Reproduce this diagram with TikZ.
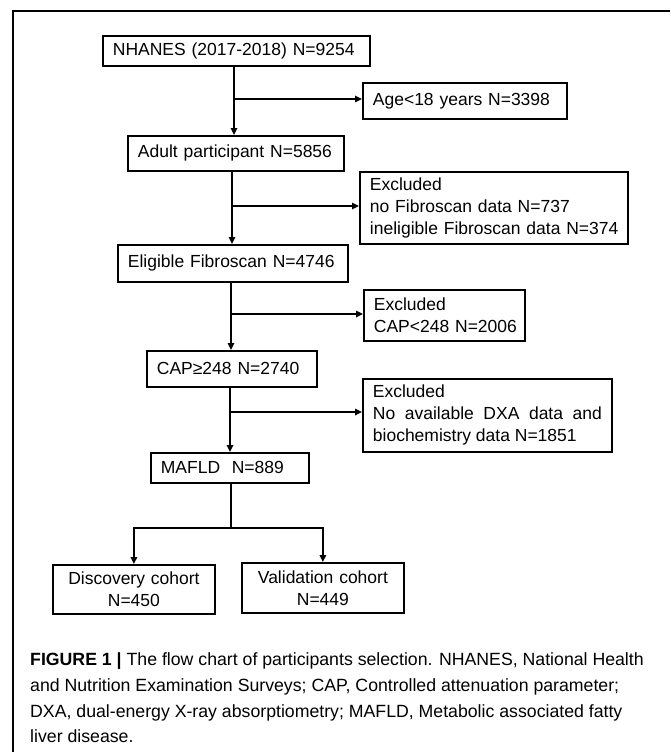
\documentclass[tikz,border=0pt]{standalone}
\usepackage{fontspec}
\setmainfont{Liberation Sans}
\usetikzlibrary{arrows.meta}
\begin{document}
\begin{tikzpicture}[x=1pt,y=-1pt,
  box/.style={draw, line width=1.8pt, inner xsep=10pt, inner ysep=0pt, anchor=north west,
    font=\fontsize{17.5}{22}\selectfont},
  lbox/.style={box, align=left},
  cbox/.style={box, align=center},
  arr/.style={line width=1.6pt, -{Triangle[length=7pt,width=6.5pt]}},
  ln/.style={line width=1.6pt},
  captext/.style={inner sep=0pt, anchor=mid west, font=\fontsize{17.7}{20}\selectfont}]
\useasboundingbox (0,0) rectangle (670,752);
% frame
\draw[line width=1.6pt] (13,752) -- (13,11) -- (670,11);
% boxes
\node[lbox, text width=247pt, minimum height=30pt] (nhanes) at (102,35) {\mbox{NHANES (2017-2018) N=9254}};
\node[lbox, text width=184pt, minimum height=36pt] (age) at (362,82) {\mbox{Age<18 years N=3398}};
\node[lbox, text width=196pt, minimum height=35pt] (adult) at (127,135) {\mbox{Adult participant N=5856}};
\node[lbox, text width=248pt, minimum height=72pt] (excl1) at (359,171) {Excluded\\\mbox{no Fibroscan data N=737}\\\mbox{ineligible Fibroscan data N=374}};
\node[lbox, text width=210pt, minimum height=37pt] (elig) at (117,244) {\mbox{Eligible Fibroscan N=4746}};
\node[lbox, text width=141pt, minimum height=51pt] (exclcap) at (363,289) {Excluded\\\mbox{CAP<248 N=2006}};
\node[lbox, text width=150pt, minimum height=36pt] (cap) at (146,350) {\mbox{CAP≥248 N=2740}};
\node[box, align=justify, text width=229pt, minimum height=73pt] (excldxa) at (362,378) {\hyphenpenalty=10000 Excluded\\No available DXA data and\linebreak biochemistry data N=1851};
\node[lbox, text width=138pt, minimum height=30pt] (mafld) at (150,452) {\mbox{MAFLD~~N=889}};
\node[cbox, text width=142pt, minimum height=49pt] (disc) at (52,564) {Discovery cohort\\N=450};
\node[cbox, text width=142pt, minimum height=50pt] (valid) at (241,562) {Validation cohort\\N=449};
% branch points
\coordinate (b1) at (234,99);
\coordinate (b2) at (232,206);
\coordinate (b3) at (231,314);
\coordinate (b4) at (230,412);
\coordinate (b5) at (231,528);
% connectors
\draw[arr] (nhanes.south -| b1) -- (adult.north -| b1);
\draw[arr] (b1) -- (b1 -| age.west);
\draw[arr] (adult.south -| b2) -- (elig.north -| b2);
\draw[arr] (b2) -- (b2 -| excl1.west);
\draw[arr] (elig.south -| b3) -- (cap.north -| b3);
\draw[arr] (b3) -- (b3 -| exclcap.west);
\draw[arr] (cap.south -| b4) -- (mafld.north -| b4);
\draw[arr] (b4) -- (b4 -| excldxa.west);
\draw[ln] (mafld.south -| b5) -- (b5);
\draw[arr] (b5) -| (disc.north);
\draw[arr] (b5) -| (valid.north);
% caption
\node[captext] (cap1) at (30,663) {\textbf{FIGURE 1 |} The flow chart of participants selection. NHANES, National Health};
\node[captext] (cap2) at (30,689) {and Nutrition Examination Surveys; CAP, Controlled attenuation parameter;};
\node[captext] (cap3) at (30,715) {DXA, dual-energy X-ray absorptiometry; MAFLD, Metabolic associated fatty};
\node[captext] (cap4) at (30,740) {liver disease.};
\end{tikzpicture}
\end{document}
